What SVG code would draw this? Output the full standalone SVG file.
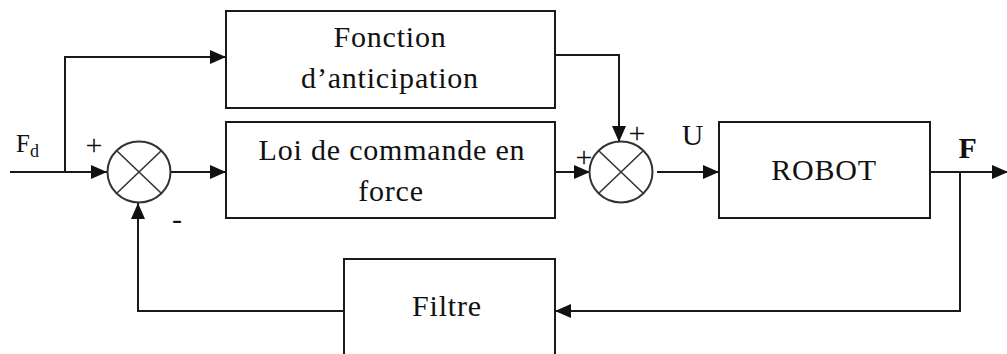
<svg xmlns="http://www.w3.org/2000/svg" width="1007" height="354" viewBox="0 0 1007 354">
  <style>
    .box { fill: #ffffff; stroke: #1a1a1a; stroke-width: 2; }
    .sum { fill: #ffffff; stroke: #333333; stroke-width: 2; }
    .cross { stroke: #333333; stroke-width: 1.6; fill: none; }
    .wire { fill: none; stroke: #1a1a1a; stroke-width: 2; }
    .lbl { font-family: "Liberation Serif", "Times New Roman", serif; font-size: 30px; letter-spacing: 0.8px; fill: #111111; text-anchor: middle; }
    .sign { font-family: "Liberation Serif", "Times New Roman", serif; font-size: 30px; fill: #111111; text-anchor: middle; }
  </style>
  <defs>
    <marker id="arrow" markerUnits="userSpaceOnUse" markerWidth="16" markerHeight="14" refX="16" refY="7" orient="auto">
      <path d="M0,0 L16,7 L0,14 Z" fill="#111111"/>
    </marker>
  </defs>

  <rect width="1007" height="354" fill="#ffffff"/>

  <!-- connectors -->
  <g id="connectors">
    <path class="wire" d="M10,172 H107" marker-end="url(#arrow)"/>
    <path class="wire" d="M65,172 V57 H226" marker-end="url(#arrow)"/>
    <path class="wire" d="M171,172 H226" marker-end="url(#arrow)"/>
    <path class="wire" d="M555,55 H619 V142" marker-end="url(#arrow)"/>
    <path class="wire" d="M555,172 H590" marker-end="url(#arrow)"/>
    <path class="wire" d="M657,172 H719" marker-end="url(#arrow)"/>
    <path class="wire" d="M930,172 H1008" marker-end="url(#arrow)"/>
    <path class="wire" d="M960,172 V311 H555" marker-end="url(#arrow)"/>
    <path class="wire" d="M344,311 H138 V203" marker-end="url(#arrow)"/>
  </g>

  <!-- first summing junction -->
  <g id="sum1">
    <ellipse class="sum" cx="139" cy="172" rx="31.5" ry="30.5"/>
    <path class="cross" d="M117,151 L161,193 M161,151 L117,193"/>
    <text class="sign" x="94" y="155">+</text>
    <text class="sign" x="177" y="229" font-size="22">-</text>
  </g>

  <!-- second summing junction -->
  <g id="sum2">
    <ellipse class="sum" cx="621" cy="172" rx="31.5" ry="30.5"/>
    <path class="cross" d="M599,151 L643,193 M643,151 L599,193"/>
    <text class="sign" x="637" y="143">+</text>
    <text class="sign" x="584" y="167">+</text>
  </g>

  <g id="anticipation">
    <rect class="box" x="226" y="11" width="329" height="97"/>
    <text class="lbl" x="390" y="47">Fonction</text>
    <text class="lbl" x="390" y="88">d’anticipation</text>
  </g>

  <g id="commande">
    <rect class="box" x="226" y="122" width="329" height="96"/>
    <text class="lbl" x="392" y="160">Loi de commande en</text>
    <text class="lbl" x="391" y="201">force</text>
  </g>

  <g id="robot">
    <rect class="box" x="719" y="122" width="211" height="96"/>
    <text class="lbl" x="824" y="180" letter-spacing="2">ROBOT</text>
  </g>

  <g id="filtre">
    <rect class="box" x="344" y="259" width="211" height="110"/>
    <text class="lbl" x="447" y="316">Filtre</text>
  </g>

  <!-- signal labels -->
  <g id="labels">
    <text x="16" y="152" font-family="Liberation Serif, serif" font-size="25" fill="#111111">F<tspan font-size="18" dy="5">d</tspan></text>
    <text class="lbl" x="693" y="145">U</text>
    <text class="lbl" x="968" y="158" font-weight="bold">F</text>
  </g>
</svg>
